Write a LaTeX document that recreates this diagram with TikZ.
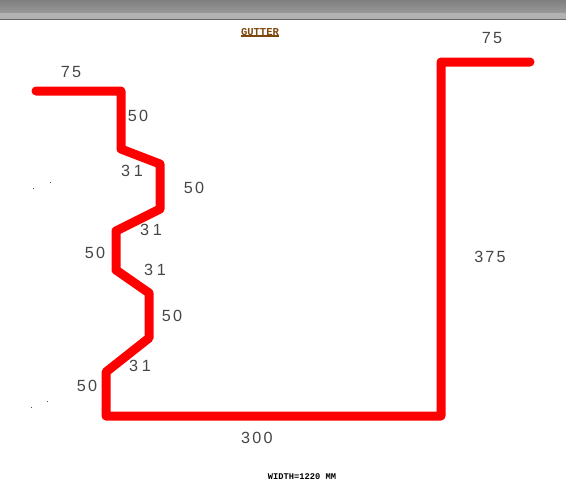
\documentclass[tikz,border=0pt]{standalone}
\usepackage{fontspec}
\usepackage{xcolor}
\setmainfont{Liberation Sans}
\newfontfamily\dimfont[LetterSpace=14]{Liberation Sans}
\newfontfamily\slantfont[LetterSpace=24]{Liberation Sans}
\newfontfamily\titlefont{Liberation Mono}
\usetikzlibrary{positioning}
\definecolor{gutterred}{RGB}{255,0,0}
\definecolor{titlebrown}{RGB}{125,70,10}
\definecolor{dimgray}{RGB}{70,70,70}
\tikzset{
  dimlabel/.style={text=dimgray,font=\dimfont\fontsize{11.5}{13}\selectfont,inner sep=0pt},
  slantlabel/.style={text=dimgray,font=\slantfont\fontsize{11.5}{13}\selectfont,inner sep=0pt},
  speck/.style={fill=titlebrown,draw=none},
}
\begin{document}
\begin{tikzpicture}[x=0.025cm,y=-0.025cm]
  \useasboundingbox (0,0) rectangle (566,483);
  \shade[top color=black!50,bottom color=black!40,draw=none] (0,0) rectangle (566,13);
  \fill[black!30] (0,13) rectangle (566,19);
  \fill[black!60] (0,19) rectangle (566,20);
  \coordinate (A) at (36,91);
  \coordinate (B) at (121,91);
  \coordinate (C) at (121,149);
  \coordinate (D) at (160,164);
  \coordinate (E) at (160,209);
  \coordinate (F) at (116,231);
  \coordinate (G) at (116,270);
  \coordinate (H) at (149,293);
  \coordinate (I) at (149,338);
  \coordinate (J) at (106,372);
  \coordinate (K) at (106,416);
  \coordinate (L) at (441,416);
  \coordinate (M) at (441,62);
  \coordinate (N) at (530,62);
  \draw[gutterred,line width=9*0.025cm,line join=round,line cap=round]
    (A) -- (B) -- (C) -- (D) -- (E) -- (F) -- (G) -- (H) -- (I) -- (J) -- (K) -- (L) -- (M) -- (N);
  \node[dimlabel] (top1) at (71,72) {75};
  \node[dimlabel] (web1) at (138,116) {50};
  \node[slantlabel] (slant1) at (132,171) {31};
  \node[dimlabel] (web2) at (194,188) {50};
  \node[slantlabel] (slant2) at (151,230) {31};
  \node[dimlabel] (web3) at (95,253) {50};
  \node[slantlabel] (slant3) at (155,270) {31};
  \node[dimlabel] (web4) at (172,316) {50};
  \node[slantlabel] (slant4) at (140,366) {31};
  \node[dimlabel] (web5) at (87,386) {50};
  \node[dimlabel] (base) at (257,438) {300};
  \node[dimlabel] (riser) at (490,257) {375};
  \node[dimlabel] (top2) at (492,38) {75};
  \node[text=titlebrown,font=\titlefont\bfseries\fontsize{7.5}{8}\selectfont,inner sep=0pt] (title) at (260,32) {GUTTER};
  \draw[titlebrown,line width=1pt] (title.south west) -- (title.south east);
  \node[text=black,font=\titlefont\bfseries\fontsize{6.2}{7}\selectfont,inner sep=0pt] (width) at (302,477) {WIDTH=1220 MM};
  \fill[speck] (50,182) rectangle +(1,1);
  \fill[speck] (33,188) rectangle +(1,1);
  \fill[speck] (47,401) rectangle +(1,1);
  \fill[speck] (31,407) rectangle +(1,1);
\end{tikzpicture}
\end{document}
